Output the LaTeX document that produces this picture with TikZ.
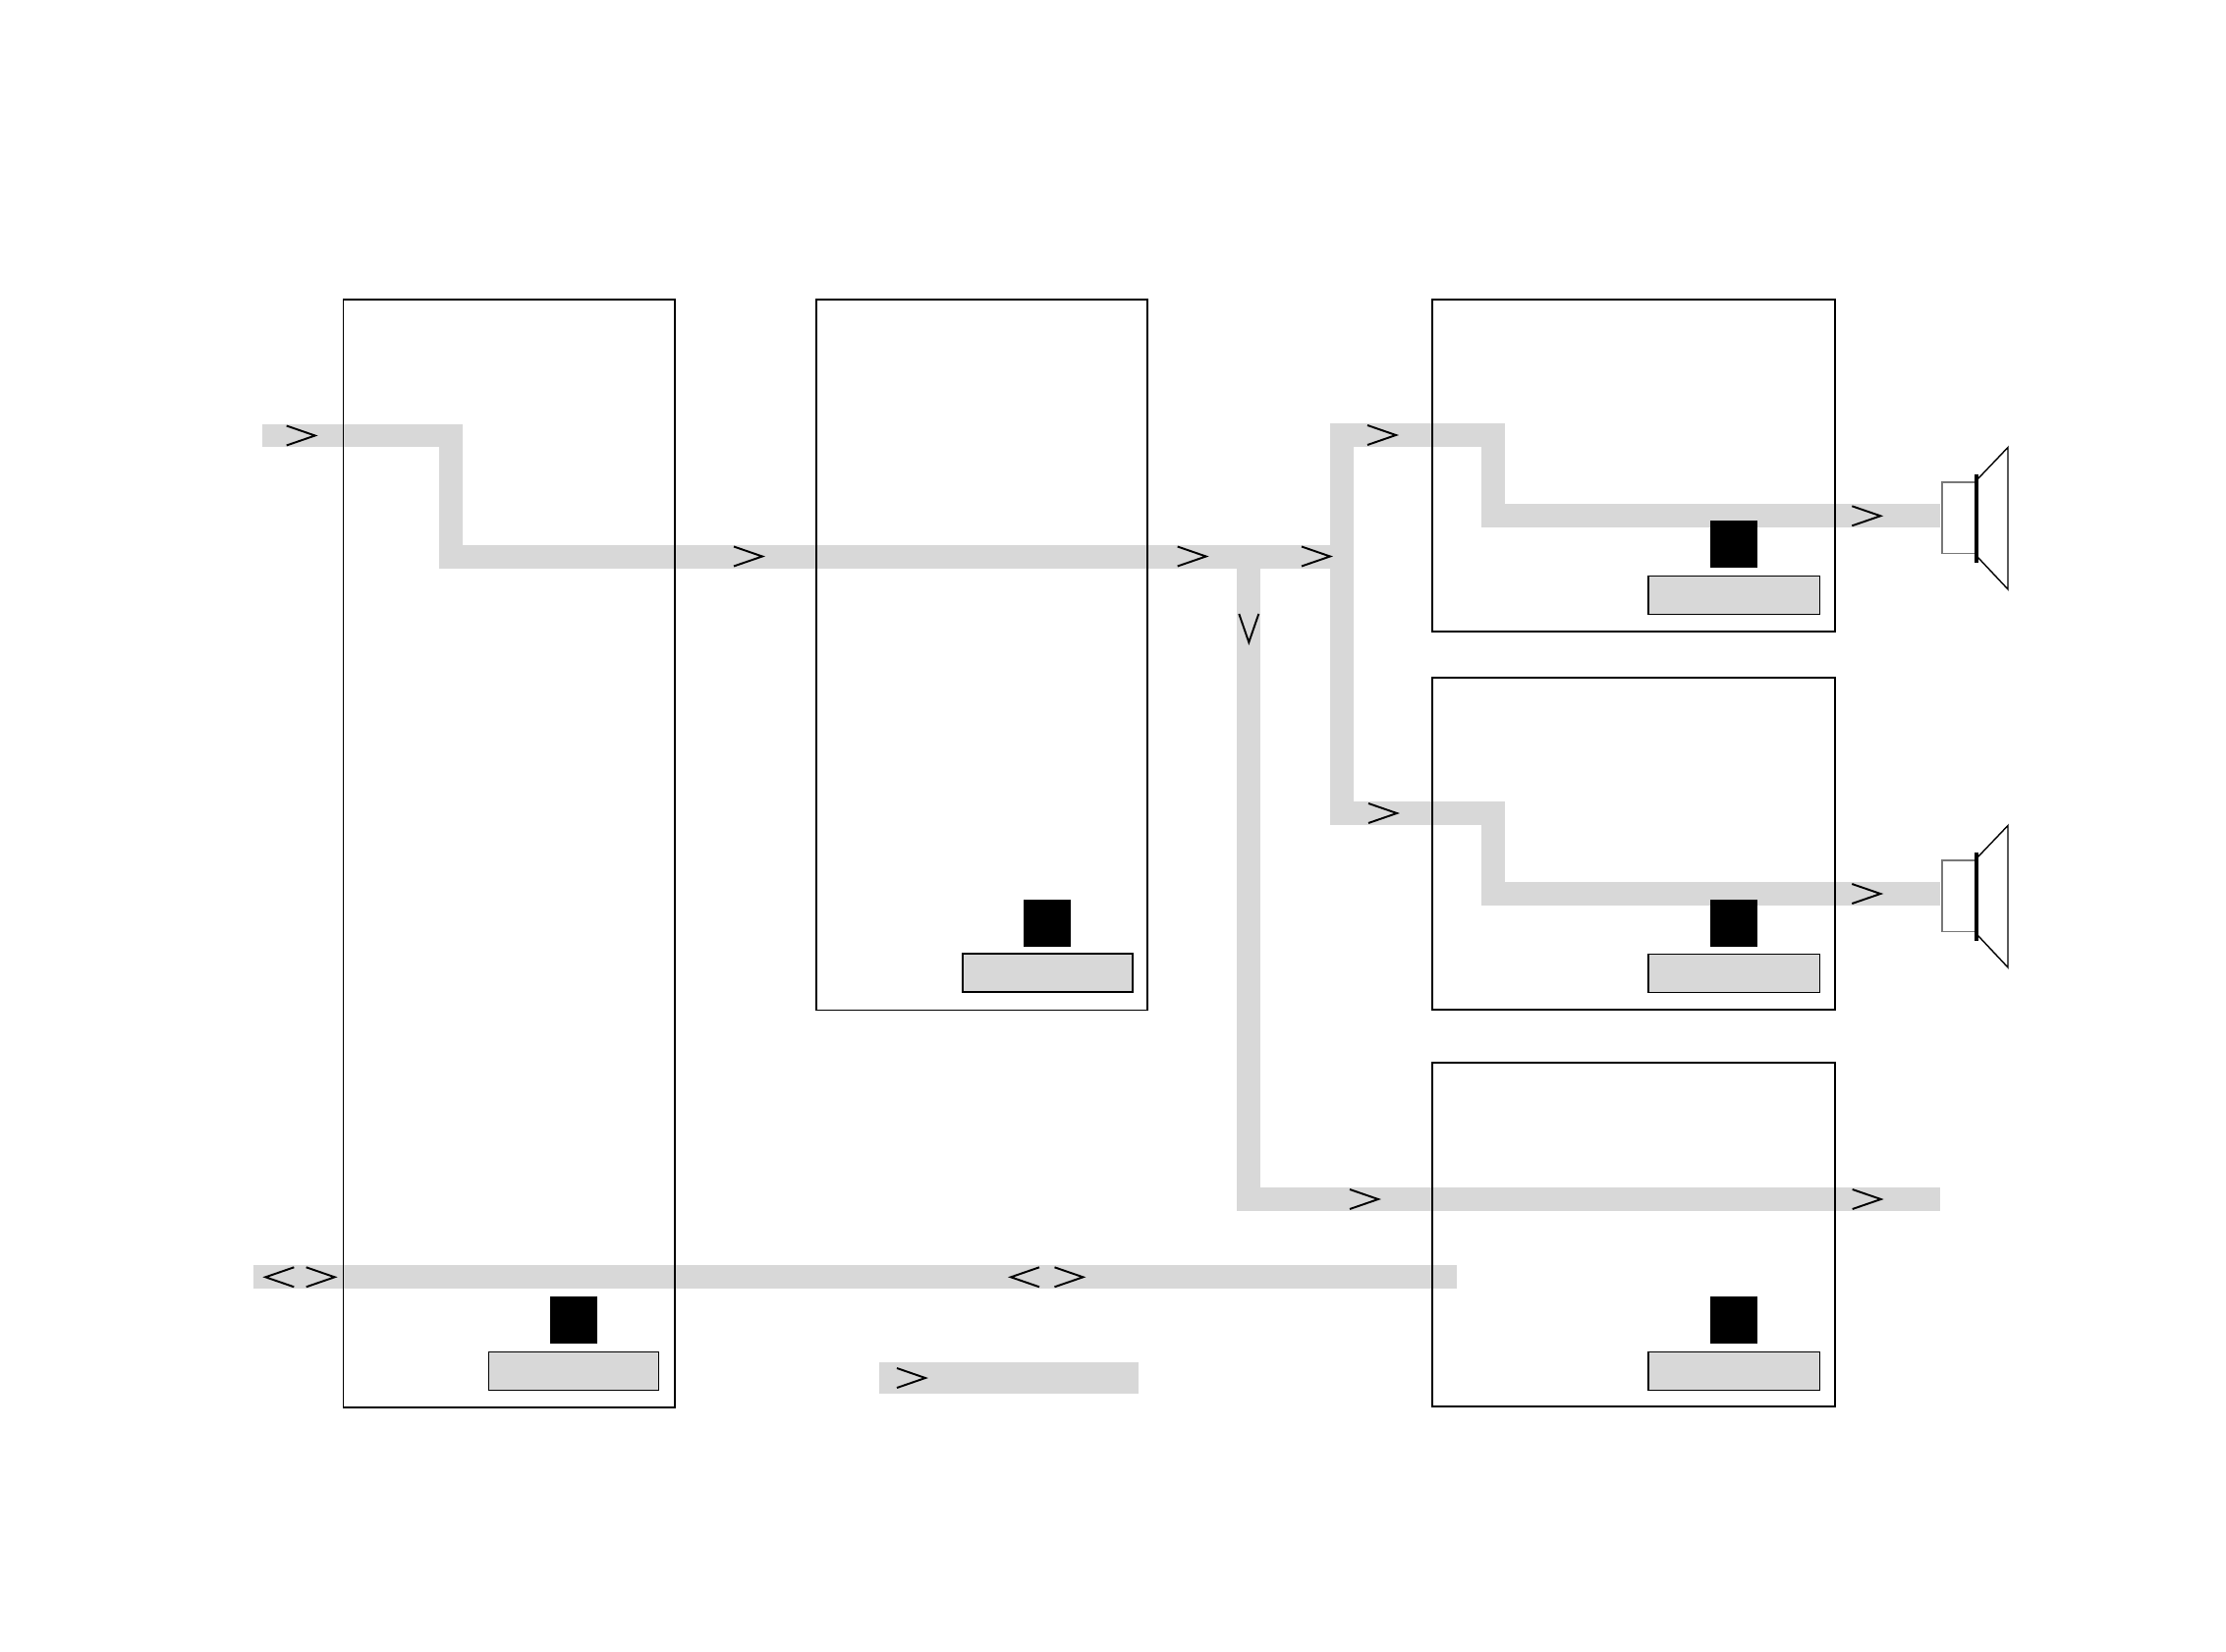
\documentclass[tikz,border=0pt]{standalone}
\usepackage{xcolor}
\usetikzlibrary{positioning}
\definecolor{wiregray}{RGB}{216, 216, 216}
\definecolor{conegray}{RGB}{120, 120, 120}
\tikzset{
    blk/.style    ={draw=black, line width=0.5pt, fill=none, inner sep=0pt, outer sep=0pt,
                    anchor=north west, minimum width=3.37cm},
    widebox/.style={blk, minimum width=4.1cm},
    plate/.style  ={draw=black, line width=0.4pt, fill=wiregray, inner sep=0pt, outer sep=0pt,
                    anchor=north west, minimum width=1.73cm, minimum height=0.39cm},
    knob/.style   ={fill=black, inner sep=0pt, outer sep=0pt, anchor=north west,
                    minimum width=0.48cm, minimum height=0.48cm},
    wire/.style   ={draw=wiregray, line width=0.235cm},
    legendbar/.style={fill=wiregray, inner sep=0pt, outer sep=0pt, anchor=north west,
                    minimum width=2.645cm, minimum height=0.32cm},
    chev/.pic     ={\draw[line width=0.55pt] (-29,-10) -- (0,0) -- (-29,10);},
    speaker/.pic  ={
        \draw[draw=conegray, line width=0.45pt] (35,-34) -- (2,-34) -- (2,38.5) -- (35,38.5);
        \draw[line width=0.4pt] (38,-37) -- (69,-69.5) -- (69,75) -- (38,42);
        \fill (35,-42.5) rectangle (39,47.5);
    }
}

\begin{document}
\begin{tikzpicture}[x=0.01cm, y=-0.01cm]
  \useasboundingbox (0,0) rectangle (2266,1682);

  \coordinate (in)    at (267,443.5);
  \coordinate (stepa) at (459,567);
  \coordinate (split) at (1366,567);
  \coordinate (tap)   at (1271,567);
  \coordinate (upa)   at (1366,443);
  \coordinate (lowa)  at (1366,828);
  \coordinate (stepb) at (1520,525);
  \coordinate (stepc) at (1520,910);
  \coordinate (outa)  at (1975,525);
  \coordinate (outb)  at (1975,910);
  \coordinate (outc)  at (1975,1221);
  \coordinate (busl)  at (258,1300);
  \coordinate (busr)  at (1483,1300);

  % wires
  \draw[wire] (in) -| (stepa) -- (split);
  \draw[wire] (outa) -- (stepb) |- (upa) -- (lowa) -| (stepc) -- (outb);
  \draw[wire] (tap) |- (outc);
  \draw[wire] (busl) -- (busr);
  \node[legendbar] (legend) at (894.5,1387) {};

  % boxes
  \node[blk, minimum height=11.27cm] (boxa) at (349.5,305) {};
  \node[blk, minimum height=7.23cm]  (boxb) at (831,305) {};
  \node[widebox, minimum height=3.375cm] (boxc) at (1458,305) {};
  \node[widebox, minimum height=3.375cm] (boxd) at (1458,690.3) {};
  \node[widebox, minimum height=3.5cm]   (boxe) at (1458,1082) {};

  \node[knob] (knoba) at (560,1320) {};
  \node[knob] (knobb) at (1042,916) {};
  \node[knob] (knobc) at (1741,530) {};
  \node[knob] (knobd) at (1741,916) {};
  \node[knob] (knobe) at (1741,1320) {};

  \node[plate] (platea) at (497.3,1376.3) {};
  \node[plate] (plateb) at (980,971) {};
  \node[plate, minimum width=1.745cm] (platec) at (1678,586.3) {};
  \node[plate, minimum width=1.745cm] (plated) at (1678,971.5) {};
  \node[plate, minimum width=1.745cm] (platee) at (1678,1376.3) {};

  % speakers
  \pic at (outa) {speaker};
  \pic at (outb) {speaker};

  % chevrons
  \foreach \px/\py in {320.7/443.5, 776/566.5, 1227.7/566.5, 1354/566.5, 1421/443, 1914.3/525.3,
                       1422/828, 1914.3/910, 1403/1221, 1914.7/1221, 340.7/1300.3, 1102.5/1300.3, 942/1403}
    \pic at (\px,\py) {chev};
  \pic[rotate=180] at (270.3,1300.3) {chev};
  \pic[rotate=180] at (1029,1300.3) {chev};
  \pic[rotate=-90] at (1271.3,654) {chev};
\end{tikzpicture}
\end{document}
